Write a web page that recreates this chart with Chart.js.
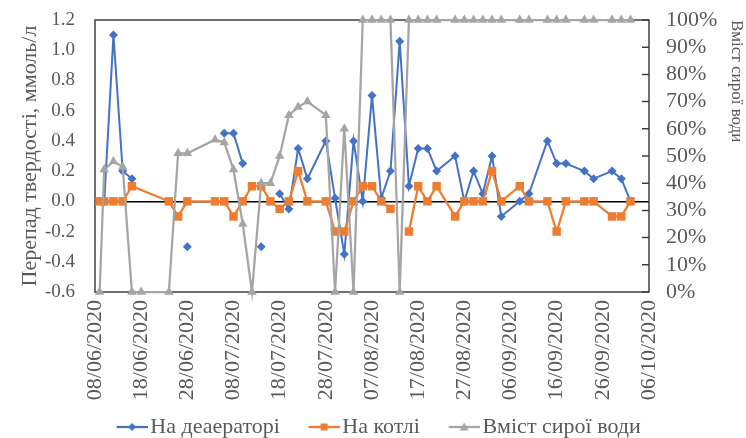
<!DOCTYPE html>
<html><head><meta charset="utf-8">
<script src="https://cdn.jsdelivr.net/npm/chart.js@4.4.0/dist/chart.umd.min.js"></script>
<style>html,body{margin:0;padding:0;background:#fff}</style>
</head><body>
<canvas id="c" width="746" height="438"></canvas>
<script>
// ---- data ----
const startDate = '08/06/2020';
const endDate = '06/10/2020';
const xTickStepDays = 10;
const seriesNames = ['На деаераторі', 'На котлі', 'Вміст сирої води'];
const leftAxisTitle = 'Перепад твердості, ммоль/л';
const rightAxisTitle = 'Вміст сирої води';

const deaeratorDates = ['10/06/2020','12/06/2020','14/06/2020','16/06/2020','18/06/2020','28/06/2020','04/07/2020','06/07/2020','08/07/2020','10/07/2020','12/07/2020','14/07/2020','16/07/2020','18/07/2020','20/07/2020','22/07/2020','24/07/2020','28/07/2020','30/07/2020','01/08/2020','03/08/2020','05/08/2020','07/08/2020','09/08/2020','11/08/2020','13/08/2020','15/08/2020','17/08/2020','19/08/2020','21/08/2020','25/08/2020','27/08/2020','29/08/2020','31/08/2020','02/09/2020','04/09/2020','08/09/2020','10/09/2020','14/09/2020','16/09/2020','18/09/2020','22/09/2020','24/09/2020','28/09/2020','30/09/2020','02/10/2020'];
const deaeratorValues = [0.00,1.10,0.20,0.15,null,-0.30,null,0.45,0.45,0.25,null,-0.30,null,0.05,-0.05,0.35,0.15,0.40,0.02,-0.35,0.40,0.00,0.70,0.02,0.20,1.06,0.10,0.35,0.35,0.20,0.30,0.00,0.20,0.05,0.30,-0.10,0.00,0.05,0.40,0.25,0.25,0.20,0.15,0.20,0.15,0.00];

const boilerDates = ['09/06/2020','10/06/2020','12/06/2020','14/06/2020','16/06/2020','24/06/2020','26/06/2020','28/06/2020','04/07/2020','06/07/2020','08/07/2020','10/07/2020','12/07/2020','14/07/2020','16/07/2020','18/07/2020','20/07/2020','22/07/2020','24/07/2020','28/07/2020','30/07/2020','01/08/2020','03/08/2020','05/08/2020','07/08/2020','09/08/2020','11/08/2020','13/08/2020','15/08/2020','17/08/2020','19/08/2020','21/08/2020','25/08/2020','27/08/2020','29/08/2020','31/08/2020','02/09/2020','04/09/2020','08/09/2020','10/09/2020','14/09/2020','16/09/2020','18/09/2020','22/09/2020','24/09/2020','28/09/2020','30/09/2020','02/10/2020'];
const boilerValues = [0,0,0,0,0.10,0,-0.10,0,0,0,-0.10,0,0.10,0.10,0,-0.05,0,0.20,0,0,-0.20,-0.20,0,0.10,0.10,0,-0.05,null,-0.20,0.10,0,0.10,-0.10,0,0,0,0.20,0,0.10,0,0,-0.20,0,0,0,-0.10,-0.10,0];

const rawWaterDates = ['09/06/2020','10/06/2020','12/06/2020','14/06/2020','16/06/2020','18/06/2020','24/06/2020','26/06/2020','28/06/2020','04/07/2020','06/07/2020','08/07/2020','10/07/2020','12/07/2020','14/07/2020','16/07/2020','18/07/2020','20/07/2020','22/07/2020','24/07/2020','28/07/2020','30/07/2020','01/08/2020','03/08/2020','05/08/2020','07/08/2020','09/08/2020','11/08/2020','13/08/2020','15/08/2020','17/08/2020','19/08/2020','21/08/2020','25/08/2020','27/08/2020','29/08/2020','31/08/2020','02/09/2020','04/09/2020','08/09/2020','10/09/2020','14/09/2020','16/09/2020','18/09/2020','22/09/2020','24/09/2020','28/09/2020','30/09/2020','02/10/2020'];
const rawWaterValues = [0,45,48,46,0,0,0,51,51,56,55,45,25,0,40,40,50,65,68,70,65,0,60,0,100,100,100,100,0,100,100,100,100,100,100,100,100,100,100,100,100,100,100,100,100,100,100,100,100];

const leftTicks = {min:-0.6, max:1.2, step:0.2};
const rightTicks = {min:0, max:100, step:10};

// ---- helpers ----
function parseD(s){const [d,m,y]=s.split('/').map(Number);return Date.UTC(y,m-1,d);}
const DAY=86400000;
const t0=parseD(startDate);
function dayOf(s){return Math.round((parseD(s)-t0)/DAY);}
function fmtDay(n){const dt=new Date(t0+n*DAY);const p=v=>String(v).padStart(2,'0');return p(dt.getUTCDate())+'/'+p(dt.getUTCMonth()+1)+'/'+dt.getUTCFullYear();}
function pts(dates,vals){return dates.map((d,i)=>({x:dayOf(d),y:vals[i]}));}

const C_BLUE='#4472C4', C_ORANGE='#ED7D31', C_GRAY='#A5A5A5', TXT='#595959';
const FONT='"Liberation Serif","Times New Roman",serif';
const BIG=22, SMALL=19;

function legendIcon(color, shape){
  const c=document.createElement('canvas'); c.width=63; c.height=14;
  const g=c.getContext('2d');
  g.strokeStyle=color; g.lineWidth=2.25;
  g.beginPath(); g.moveTo(32,7); g.lineTo(63,7); g.stroke();
  g.fillStyle=color; g.beginPath();
  const cx=47.5;
  if(shape==='diamond'){g.moveTo(cx,3);g.lineTo(cx+4,7);g.lineTo(cx,11);g.lineTo(cx-4,7);}
  else if(shape==='square'){g.rect(cx-3.5,3.5,7,7);}
  else {g.moveTo(cx,2.5);g.lineTo(cx+4.5,10.5);g.lineTo(cx-4.5,10.5);}
  g.closePath(); g.fill();
  return c;
}
const icons=[legendIcon(C_BLUE,'diamond'),legendIcon(C_ORANGE,'square'),legendIcon(C_GRAY,'triangle')];
const colors=[C_BLUE,C_ORANGE,C_GRAY];

const framePlugin={
  id:'frame',
  beforeDatasetsDraw(chart){
    const {ctx,chartArea:a}=chart;
    ctx.save();
    ctx.strokeStyle='#404040'; ctx.lineWidth=1.5;
    ctx.strokeRect(a.left,a.top,a.right-a.left,a.bottom-a.top);
    const y2=chart.scales.y2;
    ctx.beginPath();
    y2.ticks.forEach(t=>{const py=y2.getPixelForValue(t.value);ctx.moveTo(a.right-7,py);ctx.lineTo(a.right,py);});
    ctx.stroke();
    ctx.restore();
  }
};
function fixVertical(width){return s=>{s.width=width;s.paddingTop=0;s.paddingBottom=0;};}

new Chart(document.getElementById('c'),{
  type:'line',
  data:{datasets:[
    {label:seriesNames[0],data:pts(deaeratorDates,deaeratorValues),yAxisID:'y',borderColor:C_BLUE,backgroundColor:C_BLUE,borderWidth:2,pointStyle:'rectRot',pointRadius:4.5,pointBorderWidth:0,spanGaps:false,order:3,clip:false},
    {label:seriesNames[1],data:pts(boilerDates,boilerValues),yAxisID:'y',borderColor:C_ORANGE,backgroundColor:C_ORANGE,borderWidth:2.25,pointStyle:'rect',pointRadius:6,pointBorderWidth:0,spanGaps:false,order:2,clip:false},
    {label:seriesNames[2],data:pts(rawWaterDates,rawWaterValues),yAxisID:'y2',borderColor:C_GRAY,backgroundColor:C_GRAY,borderWidth:2.25,pointStyle:'triangle',pointRadius:5.5,pointBorderWidth:0,spanGaps:false,order:1,clip:false}
  ]},
  options:{
    responsive:false, animation:false,
    layout:{padding:{top:20,left:0,right:12.5,bottom:-10}},
    elements:{line:{tension:0}},
    plugins:{
      tooltip:{enabled:false},
      legend:{position:'bottom',
        labels:{usePointStyle:true,pointStyleWidth:46.5,padding:5,color:TXT,font:{family:FONT,size:BIG},
          generateLabels:()=>seriesNames.map((n,i)=>({text:n,pointStyle:icons[i],fillStyle:colors[i],strokeStyle:colors[i],lineWidth:0,fontColor:TXT,datasetIndex:i,hidden:false}))}}
    },
    scales:{
      x:{type:'linear',min:dayOf(startDate),max:dayOf(endDate),
        afterFit:s=>{s.height=119;},
        grid:{display:false,drawTicks:false},border:{display:false},
        ticks:{stepSize:xTickStepDays,autoSkip:false,maxRotation:90,minRotation:90,padding:8,color:TXT,font:{family:FONT,size:BIG},callback:v=>fmtDay(v)}},
      y:{position:'left',min:leftTicks.min,max:leftTicks.max,
        afterFit:fixVertical(95),
        grid:{drawTicks:false,lineWidth:1.5,color:c=>Math.abs(c.tick.value)<1e-9?'#000':'rgba(0,0,0,0)'},border:{display:false},
        ticks:{stepSize:leftTicks.step,autoSkip:false,padding:20,color:TXT,font:{family:FONT,size:SMALL},callback:v=>Number(v).toFixed(1)},
        title:{display:true,text:leftAxisTitle,color:TXT,font:{family:FONT,size:BIG,lineHeight:1},padding:{top:19,bottom:0}}},
      y2:{position:'right',min:rightTicks.min,max:rightTicks.max,
        afterFit:fixVertical(84.5),
        grid:{display:false,drawTicks:false},border:{display:false},
        ticks:{stepSize:rightTicks.step,autoSkip:false,padding:17,color:TXT,font:{family:FONT,size:BIG},callback:v=>v+'%'},
        title:{display:true,text:rightAxisTitle,align:'end',color:TXT,font:{family:FONT,size:17,lineHeight:1},padding:{top:-11,bottom:0}}}
    }
  },
  plugins:[framePlugin]
});
</script>
</body></html>
